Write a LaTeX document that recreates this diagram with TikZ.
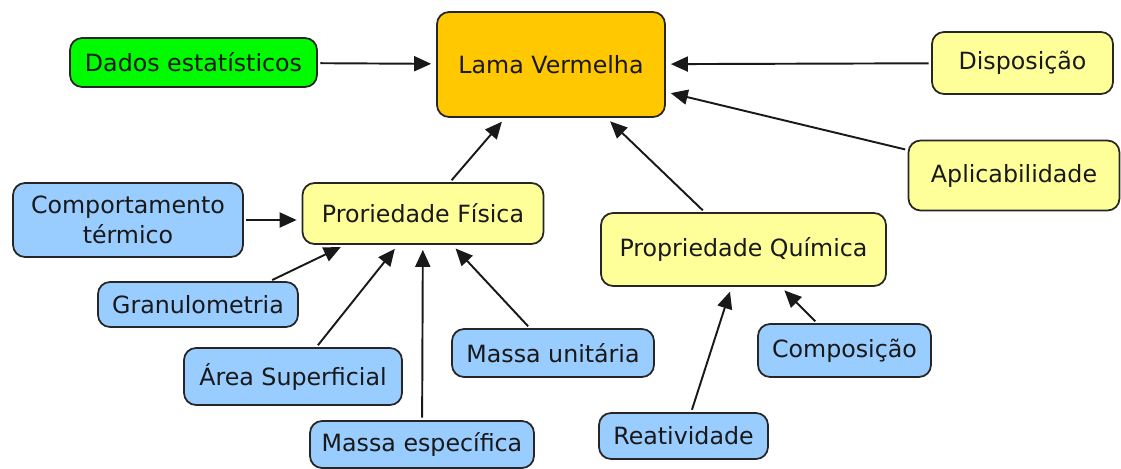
\documentclass[tikz,border=0pt]{standalone}
\usepackage{fontspec}
\setmainfont{DejaVu Sans}
\usetikzlibrary{arrows.meta}

\definecolor{mapgreen}{RGB}{0,250,0}
\definecolor{maporange}{RGB}{255,200,0}
\definecolor{mapyellow}{RGB}{255,255,153}
\definecolor{mapblue}{RGB}{153,204,255}

\tikzset{
  concept/.style={draw=black!85, line width=1pt, rounded corners=0.24cm,
    inner sep=0pt, align=center, text=black!90,
    font=\fontsize{13.5}{16}\selectfont},
  link/.style={line width=1.1pt, black!90,
    -{Triangle[length=0.34cm,width=0.3cm]},
    shorten <=0.05cm, shorten >=0.1cm}
}

\begin{document}
\begin{tikzpicture}[x=0.02cm, y=-0.02cm]

\useasboundingbox (0,0) rectangle (1121,469);

% top row
\node[concept, fill=maporange, minimum width=4.56cm, minimum height=2.10cm]
  (lama) at (551,64.5) {Lama Vermelha};
\node[concept, fill=mapgreen, minimum width=4.94cm, minimum height=0.98cm]
  (dados) at (193.5,62.5) {Dados estatísticos};
\node[concept, fill=mapyellow, minimum width=3.62cm, minimum height=1.24cm]
  (disp) at (1022.5,63) {Disposição};
\node[concept, fill=mapyellow, minimum width=4.22cm, minimum height=1.40cm]
  (apl) at (1014,175.5) {Aplicabilidade};

% properties
\node[concept, fill=mapyellow, minimum width=4.82cm, minimum height=1.22cm]
  (fis) at (423,213.5) {Proriedade Física};
\node[concept, fill=mapyellow, minimum width=5.70cm, minimum height=1.46cm]
  (quim) at (743.5,249.5) {Propriedade Química};

% physical
\node[concept, fill=mapblue, minimum width=4.60cm, minimum height=1.48cm]
  (comp) at (128,220) {Comportamento\\[1pt]térmico};
\node[concept, fill=mapblue, minimum width=4.00cm, minimum height=0.90cm]
  (gran) at (198,304.5) {Granulometria};
\node[concept, fill=mapblue, minimum width=4.36cm, minimum height=1.14cm]
  (area) at (293,376.5) {Área Superficial};
\node[concept, fill=mapblue, minimum width=4.48cm, minimum height=0.94cm]
  (mesp) at (422,444.5) {Massa específica};
\node[concept, fill=mapblue, minimum width=4.04cm, minimum height=0.96cm]
  (muni) at (553,353) {Massa unitária};

% chemical
\node[concept, fill=mapblue, minimum width=3.46cm, minimum height=1.06cm]
  (compos) at (844.5,350.5) {Composição};
\node[concept, fill=mapblue, minimum width=3.38cm, minimum height=0.92cm]
  (reat) at (683.5,436) {Reatividade};

% links
\draw[link] (dados) -- (lama);
\draw[link] (disp) -- (lama);
\draw[link] (apl) -- (lama);
\draw[link] (fis) -- (lama);
\draw[link] (quim) -- (lama);

\draw[link] (comp.east) -- (comp.east -| fis.west);
\draw[link] (gran.18) -- (fis.-158);
\draw[link] (area) -- (fis);
\draw[link] (mesp) -- (fis);
\draw[link] (muni) -- (fis);

\draw[link] (reat) -- (quim);
\draw[link] (compos) -- (quim);

\end{tikzpicture}
\end{document}
